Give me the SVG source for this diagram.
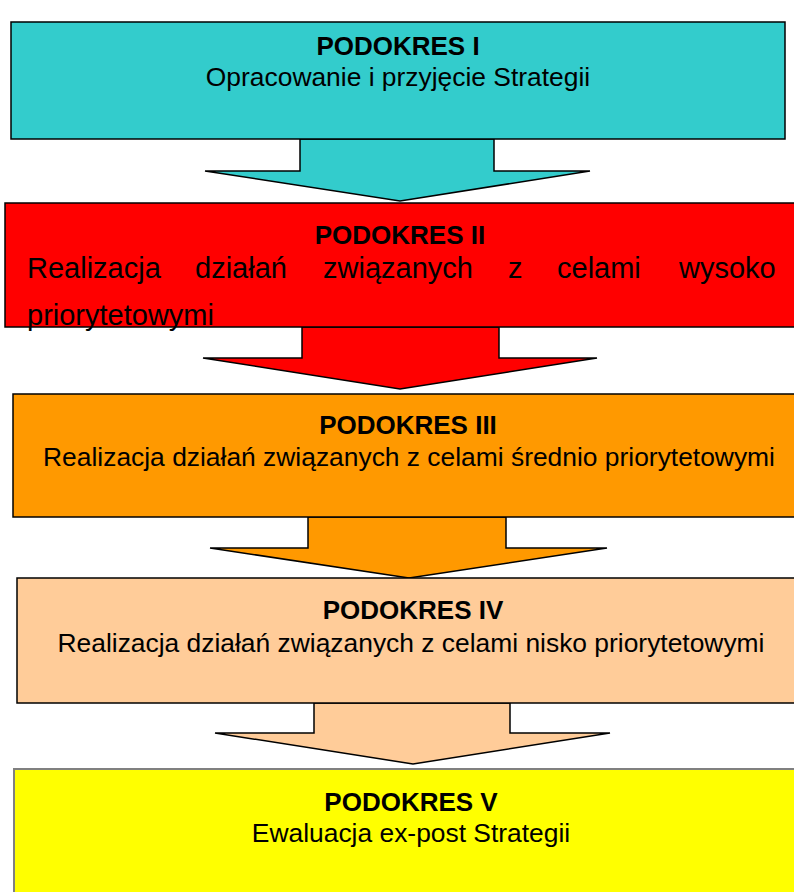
<svg xmlns="http://www.w3.org/2000/svg" width="794" height="892" viewBox="0 0 794 892">
<style>
.box{stroke:#000;stroke-width:1.5}
.arr{stroke:#000;stroke-width:1.5;stroke-linejoin:miter}
text{font-family:"Liberation Sans",Arial,sans-serif;fill:#000}
.h{font-weight:bold;font-size:26px;text-anchor:middle}
.b{font-size:26.4px;text-anchor:middle}
.j{font-size:29px}
</style>
<rect width="794" height="892" fill="#fff"/>
<g id="connectors">
<polygon class="arr" fill="#33CCCC" points="300,139 494,139 494,171 590,171 400,201 205,171 300,171"/>
<polygon class="arr" fill="#FF0000" points="302,327 499,327 499,358 597,358 400,389 203,358 302,358"/>
<polygon class="arr" fill="#FF9900" points="308,517 506,517 506,548 607,548 409,578 210,548 308,548"/>
<polygon class="arr" fill="#FFCC99" points="314,703 510,703 510,733 610,733 413,764 215,733 314,733"/>
</g>
<g id="node1">
<rect class="box" fill="#33CCCC" x="11" y="22" width="774" height="117"/>
<text class="h" x="398" y="55">PODOKRES I</text>
<text class="b" x="398" y="86">Opracowanie i przyjęcie Strategii</text>
</g>
<g id="node2">
<rect class="box" fill="#FF0000" x="5" y="203" width="795" height="124"/>
<text class="h" x="400" y="244">PODOKRES II</text>
<text class="j" y="278"><tspan x="27">Realizacja</tspan><tspan x="195">działań</tspan><tspan x="323">związanych</tspan><tspan x="508">z</tspan><tspan x="557">celami</tspan><tspan x="679">wysoko</tspan></text>
<text class="j" x="27" y="325">priorytetowymi</text>
</g>
<g id="node3">
<rect class="box" fill="#FF9900" x="13" y="394" width="790" height="123"/>
<text class="h" x="408" y="434">PODOKRES III</text>
<text class="b" x="409" y="466">Realizacja działań związanych z celami średnio priorytetowymi</text>
</g>
<g id="node4">
<rect class="box" fill="#FFCC99" x="17" y="578" width="790" height="125"/>
<text class="h" x="413" y="619">PODOKRES IV</text>
<text class="b" x="411" y="652">Realizacja działań związanych z celami nisko priorytetowymi</text>
</g>
<g id="node5">
<rect fill="#FFFF00" stroke="#808080" stroke-width="2" x="14" y="769" width="790" height="140"/>
<text class="h" x="411" y="811">PODOKRES V</text>
<text class="b" x="411" y="842">Ewaluacja ex-post Strategii</text>
</g>
</svg>
